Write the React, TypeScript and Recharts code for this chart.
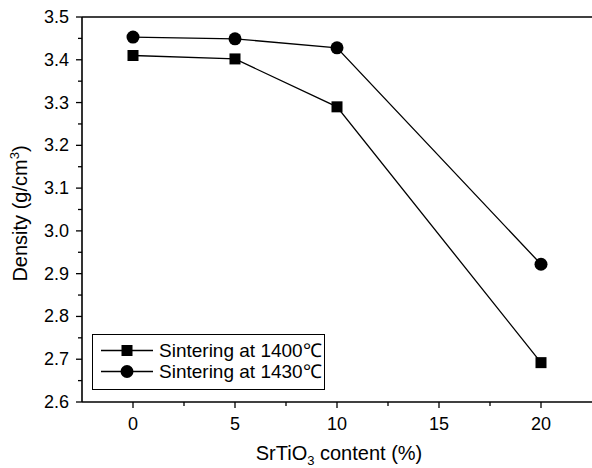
import React from 'react';
import {
  LineChart,
  Line,
  XAxis,
  YAxis,
  ReferenceLine,
  Legend,
} from 'recharts';

// SrTiO3 content (%) and measured density (g/cm3) at both sintering temperatures
const contents = [0, 5, 10, 20];
const density1400 = [3.41, 3.402, 3.29, 2.692];
const density1430 = [3.453, 3.449, 3.428, 2.922];

const seriesNames = ['Sintering at 1400\u2103', 'Sintering at 1430\u2103'];

// major + minor tick positions
const xTicks = [0, 2.5, 5, 7.5, 10, 12.5, 15, 17.5, 20];
const yTicks = [
  2.6, 2.65, 2.7, 2.75, 2.8, 2.85, 2.9, 2.95, 3.0, 3.05,
  3.1, 3.15, 3.2, 3.25, 3.3, 3.35, 3.4, 3.45, 3.5,
];

const data = contents.map((c, i) => ({
  content: c,
  d1400: density1400[i],
  d1430: density1430[i],
}));

const FONT = '"Liberation Sans", Arial, sans-serif';

const XTick = (props: any) => {
  const { x, y, payload } = props;
  const v = payload.value as number;
  const major = v % 5 === 0;
  return (
    <g>
      <line x1={x} x2={x} y1={y} y2={y + (major ? 6 : 4)} stroke="#000" strokeWidth={1.3} />
      {major && (
        <text x={x} y={y + 28} textAnchor="middle" fontSize={18} fontFamily={FONT} fill="#000">
          {v}
        </text>
      )}
    </g>
  );
};

const YTick = (props: any) => {
  const { x, y, payload } = props;
  const v = payload.value as number;
  const major = Math.round(v * 100) % 10 === 0;
  return (
    <g>
      <line x1={x} x2={x - (major ? 6 : 4)} y1={y} y2={y} stroke="#000" strokeWidth={1.3} />
      {major && (
        <text x={x - 13} y={y + 6} textAnchor="end" fontSize={18} fontFamily={FONT} fill="#000">
          {v.toFixed(1)}
        </text>
      )}
    </g>
  );
};

const renderXLabel = (props: any) => {
  const { viewBox } = props;
  const cx = viewBox.x + viewBox.width / 2 + 2;
  return (
    <text x={cx} y={viewBox.y + 58} textAnchor="middle" fontSize={20} fontFamily={FONT} fill="#000">
      SrTiO
      <tspan dy={5} fontSize={13}>3</tspan>
      <tspan dy={-5}> content (%)</tspan>
    </text>
  );
};

const renderYLabel = (props: any) => {
  const { viewBox } = props;
  const cx = 27;
  const cy = viewBox.y + viewBox.height / 2 + 4;
  return (
    <text
      x={cx}
      y={cy}
      transform={`rotate(-90, ${cx}, ${cy})`}
      textAnchor="middle"
      fontSize={20}
      fontFamily={FONT}
      fill="#000"
    >
      Density (g/cm
      <tspan dy={-8} fontSize={13}>3</tspan>
      <tspan dy={8}>)</tspan>
    </text>
  );
};

const SquareDot = (props: any) => {
  const { cx, cy } = props;
  if (cx == null || cy == null) return null;
  return <rect x={cx - 5.5} y={cy - 5.5} width={11} height={11} fill="#000" />;
};

const CircleDot = (props: any) => {
  const { cx, cy } = props;
  if (cx == null || cy == null) return null;
  return <circle cx={cx} cy={cy} r={6.5} fill="#000" />;
};

const LegendBox = () => (
  <div
    style={{
      border: '1px solid #000',
      width: 231,
      height: 49,
      boxSizing: 'content-box',
      paddingTop: 5,
      fontFamily: FONT,
      fontSize: 19,
      lineHeight: '21px',
      color: '#000',
    }}
  >
    {seriesNames.map((name, i) => (
      <div key={name} style={{ display: 'flex', alignItems: 'center', height: 21 }}>
        <svg width={66} height={21} style={{ flex: 'none' }}>
          <line x1={8} x2={60} y1={10.5} y2={10.5} stroke="#000" strokeWidth={1.3} />
          {i === 0 ? (
            <rect x={28.5} y={5} width={11} height={11} fill="#000" />
          ) : (
            <circle cx={34} cy={10.5} r={6.5} fill="#000" />
          )}
        </svg>
        <span style={{ whiteSpace: 'nowrap' }}>{name}</span>
      </div>
    ))}
  </div>
);

export default function App() {
  return (
    <div style={{ position: 'absolute', left: 0, top: 0, background: '#fff' }}>
      <LineChart
        width={592}
        height={468}
        data={data}
        margin={{ top: 17, right: 0, bottom: 0, left: 0 }}
      >
        <XAxis
          dataKey="content"
          type="number"
          domain={[-2.5, 22.5]}
          ticks={xTicks}
          interval={0}
          height={66}
          tickSize={0}
          tickMargin={0}
          tickLine={false}
          tick={<XTick />}
          axisLine={{ stroke: '#000', strokeWidth: 1.6 }}
          label={{ content: renderXLabel }}
        />
        <YAxis
          type="number"
          domain={[2.6, 3.5]}
          ticks={yTicks}
          interval={0}
          width={82}
          tickSize={0}
          tickMargin={0}
          tickLine={false}
          tick={<YTick />}
          axisLine={{ stroke: '#000', strokeWidth: 1.6 }}
          label={{ content: renderYLabel }}
        />
        <ReferenceLine y={3.5} stroke="#000" strokeWidth={1.6} />
        <Legend
          layout="vertical"
          align="center"
          verticalAlign="middle"
          content={<LegendBox />}
          wrapperStyle={{ left: 92, top: 334, width: 233, height: 56 }}
        />
        <Line
          name={seriesNames[0]}
          dataKey="d1400"
          stroke="#000"
          strokeWidth={1.3}
          dot={<SquareDot />}
          activeDot={false}
          isAnimationActive={false}
        />
        <Line
          name={seriesNames[1]}
          dataKey="d1430"
          stroke="#000"
          strokeWidth={1.3}
          dot={<CircleDot />}
          activeDot={false}
          isAnimationActive={false}
        />
      </LineChart>
    </div>
  );
}
